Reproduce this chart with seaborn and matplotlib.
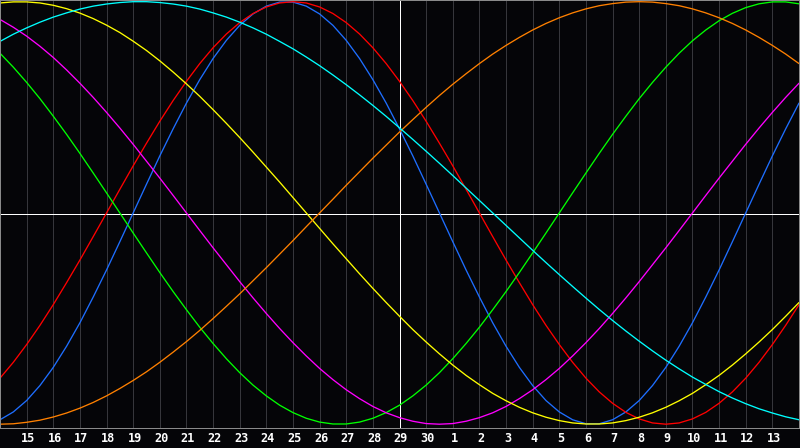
import numpy as np
import pandas as pd
import seaborn as sns
import matplotlib
matplotlib.use("Agg")
import matplotlib.pyplot as plt
from matplotlib.transforms import ScaledTranslation

# Day labels along the x axis (one per grid line)
days = [14, 15, 16, 17, 18, 19, 20, 21, 22, 23, 24, 25, 26, 27, 28, 29, 30,
        1, 2, 3, 4, 5, 6, 7, 8, 9, 10, 11, 12, 13, 14]

# Cycle values read every half day (-1 .. 1), first value at the left edge
blue_23 = [-0.979, -0.942, -0.888, -0.817, -0.731, -0.631, -0.520, -0.398, -0.270, -0.136,
           0.000, 0.136, 0.270, 0.398, 0.520, 0.631, 0.731, 0.817, 0.888, 0.942,
           0.979, 0.998, 0.998, 0.979, 0.942, 0.888, 0.817, 0.731, 0.631, 0.520,
           0.398, 0.270, 0.136, 0.000, -0.136, -0.270, -0.398, -0.520, -0.631, -0.731,
           -0.817, -0.888, -0.942, -0.979, -0.998, -0.998, -0.979, -0.942, -0.888, -0.817,
           -0.731, -0.631, -0.520, -0.398, -0.270, -0.136, 0.000, 0.136, 0.270, 0.398,
           0.520]
red_28 = [-0.782, -0.707, -0.623, -0.532, -0.434, -0.330, -0.223, -0.112, 0.000, 0.112,
          0.223, 0.330, 0.434, 0.532, 0.623, 0.707, 0.782, 0.847, 0.901, 0.944,
          0.975, 0.994, 1.000, 0.994, 0.975, 0.944, 0.901, 0.847, 0.782, 0.707,
          0.623, 0.532, 0.434, 0.330, 0.223, 0.112, 0.000, -0.112, -0.223, -0.330,
          -0.434, -0.532, -0.623, -0.707, -0.782, -0.847, -0.901, -0.944, -0.975, -0.994,
          -1.000, -0.994, -0.975, -0.944, -0.901, -0.847, -0.782, -0.707, -0.623, -0.532,
          -0.434]
green_33 = [0.756, 0.690, 0.618, 0.541, 0.458, 0.372, 0.282, 0.189, 0.095, 0.000,
            -0.095, -0.189, -0.282, -0.372, -0.458, -0.541, -0.618, -0.690, -0.756, -0.815,
            -0.866, -0.910, -0.945, -0.972, -0.990, -0.999, -0.999, -0.990, -0.972, -0.945,
            -0.910, -0.866, -0.815, -0.756, -0.690, -0.618, -0.541, -0.458, -0.372, -0.282,
            -0.189, -0.095, 0.000, 0.095, 0.189, 0.282, 0.372, 0.458, 0.541, 0.618,
            0.690, 0.756, 0.815, 0.866, 0.910, 0.945, 0.972, 0.990, 0.999, 0.999,
            0.990]
magenta_38 = [0.916, 0.879, 0.837, 0.789, 0.736, 0.677, 0.614, 0.547, 0.476, 0.402,
              0.325, 0.245, 0.165, 0.083, 0.000, -0.083, -0.165, -0.245, -0.325, -0.402,
              -0.476, -0.547, -0.614, -0.677, -0.736, -0.789, -0.837, -0.879, -0.916, -0.946,
              -0.969, -0.986, -0.997, -1.000, -0.997, -0.986, -0.969, -0.946, -0.916, -0.879,
              -0.837, -0.789, -0.736, -0.677, -0.614, -0.547, -0.476, -0.402, -0.325, -0.245,
              -0.165, -0.083, 0.000, 0.083, 0.165, 0.245, 0.325, 0.402, 0.476, 0.547,
              0.614]
yellow_43 = [0.994, 0.999, 0.999, 0.994, 0.983, 0.967, 0.946, 0.920, 0.889, 0.854,
             0.813, 0.769, 0.720, 0.667, 0.611, 0.552, 0.489, 0.424, 0.357, 0.288,
             0.217, 0.146, 0.073, 0.000, -0.073, -0.146, -0.217, -0.288, -0.357, -0.424,
             -0.489, -0.552, -0.611, -0.667, -0.720, -0.769, -0.813, -0.854, -0.889, -0.920,
             -0.946, -0.967, -0.983, -0.994, -0.999, -0.999, -0.994, -0.983, -0.967, -0.946,
             -0.920, -0.889, -0.854, -0.813, -0.769, -0.720, -0.667, -0.611, -0.552, -0.489,
             -0.424]
orange_48 = [-1.000, -0.998, -0.991, -0.981, -0.966, -0.947, -0.924, -0.897, -0.866, -0.831,
             -0.793, -0.752, -0.707, -0.659, -0.609, -0.556, -0.500, -0.442, -0.383, -0.321,
             -0.259, -0.195, -0.131, -0.065, 0.000, 0.065, 0.131, 0.195, 0.259, 0.321,
             0.383, 0.442, 0.500, 0.556, 0.609, 0.659, 0.707, 0.752, 0.793, 0.831,
             0.866, 0.897, 0.924, 0.947, 0.966, 0.981, 0.991, 0.998, 1.000, 0.998,
             0.991, 0.981, 0.966, 0.947, 0.924, 0.897, 0.866, 0.831, 0.793, 0.752,
             0.707]
cyan_53 = [0.812, 0.846, 0.876, 0.903, 0.927, 0.947, 0.965, 0.979, 0.989, 0.996,
           1.000, 1.000, 0.996, 0.989, 0.979, 0.965, 0.947, 0.927, 0.903, 0.876,
           0.846, 0.812, 0.777, 0.738, 0.697, 0.653, 0.607, 0.559, 0.509, 0.457,
           0.403, 0.348, 0.292, 0.235, 0.177, 0.118, 0.059, 0.000, -0.059, -0.118,
           -0.177, -0.235, -0.292, -0.348, -0.403, -0.457, -0.509, -0.559, -0.607, -0.653,
           -0.697, -0.738, -0.777, -0.812, -0.846, -0.876, -0.903, -0.927, -0.947, -0.965,
           -0.979]

series = {
    "23": blue_23, "28": red_28, "33": green_33, "38": magenta_38,
    "43": yellow_43, "48": orange_48, "53": cyan_53,
}
colors = {
    "23": "#1E6EFF", "28": "#FF0000", "33": "#00FF00", "38": "#FF00FF",
    "43": "#FFFF00", "48": "#FF8000", "53": "#00FFFF",
}

rows = []
for name, vals in series.items():
    for i, v in enumerate(vals):
        rows.append({"pos": i / 2, "value": v, "cycle": name})
df = pd.DataFrame(rows)

sns.set_theme(style="dark")
BG = "#050508"
PX = 0.72
fig = plt.figure(figsize=(8.0, 4.48), dpi=100, facecolor=BG)
ax = fig.add_axes([0.0, 20 / 448, 0.99875, 428 / 448])
ax.set_facecolor(BG)

n = len(days)
for i in range(n):
    ax.axvline(i, color="#36363b", lw=PX, zorder=1, antialiased=False)

mid = n // 2
ax.axvline(mid, color="white", lw=PX, zorder=2, antialiased=False)
ax.axhline(-0.005, color="white", lw=PX, zorder=2, antialiased=False)

sns.lineplot(data=df, x="pos", y="value", hue="cycle", palette=colors,
             hue_order=list(series.keys()), legend=False, ax=ax,
             linewidth=0.95, zorder=3)

ax.set_xlim(0, n - 1)
ax.set_ylim(-1.018, 1.008)
ax.set_yticks([])
ax.set_xticks(range(1, n - 1))
ax.set_xticklabels([str(d) for d in days[1:n - 1]])
ax.tick_params(axis="x", length=0, pad=3.2, colors="white", labelsize=8.6)
shift = ScaledTranslation(1.5 / 100, 0, fig.dpi_scale_trans)
for tick in ax.xaxis.get_major_ticks():
    lab = tick.label1
    lab.set_fontfamily("DejaVu Sans Mono")
    lab.set_fontweight("bold")
    lab.set_transform(lab.get_transform() + shift)
ax.set_xlabel("")
ax.set_ylabel("")
ax.grid(False)

for side in ["top", "left", "bottom", "right"]:
    ax.spines[side].set_visible(True)
    ax.spines[side].set_color("#8a8a8a")
    ax.spines[side].set_linewidth(PX)
    ax.spines[side].set_zorder(5)

fig.savefig("out.png", dpi=100, facecolor=BG)
